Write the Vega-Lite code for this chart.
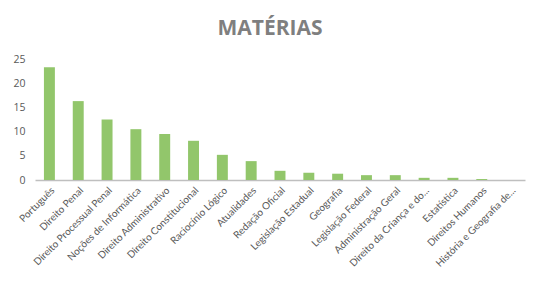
{
  "$schema": "https://vega.github.io/schema/vega-lite/v6.json",
  "width": 490,
  "height": 121,
  "autosize": "none",
  "padding": {"left": 35, "top": 59, "right": 17, "bottom": 113},
  "background": "white",
  "title": {
    "text": "MATÉRIAS",
    "font": "Open Sans",
    "fontSize": 21,
    "fontWeight": "bold",
    "color": "#7F7F7F",
    "anchor": "middle",
    "offset": 15,
    "dx": -10
  },
  "data": {
    "values": [
      {"materia": "Português", "valor": 23.3},
      {"materia": "Direito Penal", "valor": 16.3},
      {"materia": "Direito Processual Penal", "valor": 12.5},
      {"materia": "Noções de Informática", "valor": 10.5},
      {"materia": "Direito Administrativo", "valor": 9.5},
      {"materia": "Direito Constitucional", "valor": 8.1},
      {"materia": "Raciocínio Lógico", "valor": 5.2},
      {"materia": "Atualidades", "valor": 3.9},
      {"materia": "Redação Oficial", "valor": 1.9},
      {"materia": "Legislação Estadual", "valor": 1.5},
      {"materia": "Geografia", "valor": 1.3},
      {"materia": "Legislação Federal", "valor": 1.0},
      {"materia": "Administração Geral", "valor": 1.0},
      {"materia": "Direito da Criança e do...", "valor": 0.45},
      {"materia": "Estatística", "valor": 0.45},
      {"materia": "Direitos Humanos", "valor": 0.2},
      {"materia": "História e Geografia de...", "valor": 0}
    ]
  },
  "mark": {"type": "bar", "color": "#92C66B"},
  "encoding": {
    "x": {
      "field": "materia",
      "type": "nominal",
      "sort": null,
      "title": null,
      "scale": {"paddingInner": 0.62, "paddingOuter": 0.31},
      "axis": {
        "labelAngle": -45,
        "labelFont": "Lato",
        "labelFontSize": 10,
        "labelColor": "#595959",
        "labelLimit": 200,
        "ticks": false,
        "domainColor": "#BFBFBF",
        "domainWidth": 1.5,
        "labelPadding": 5
      }
    },
    "y": {
      "field": "valor",
      "type": "quantitative",
      "title": null,
      "scale": {"domain": [0, 25]},
      "axis": {
        "values": [0, 5, 10, 15, 20, 25],
        "grid": false,
        "domain": false,
        "ticks": false,
        "labelFont": "Open Sans",
        "labelFontSize": 10.5,
        "labelColor": "#595959",
        "labelPadding": 10
      }
    }
  },
  "config": {"view": {"stroke": null}}
}
